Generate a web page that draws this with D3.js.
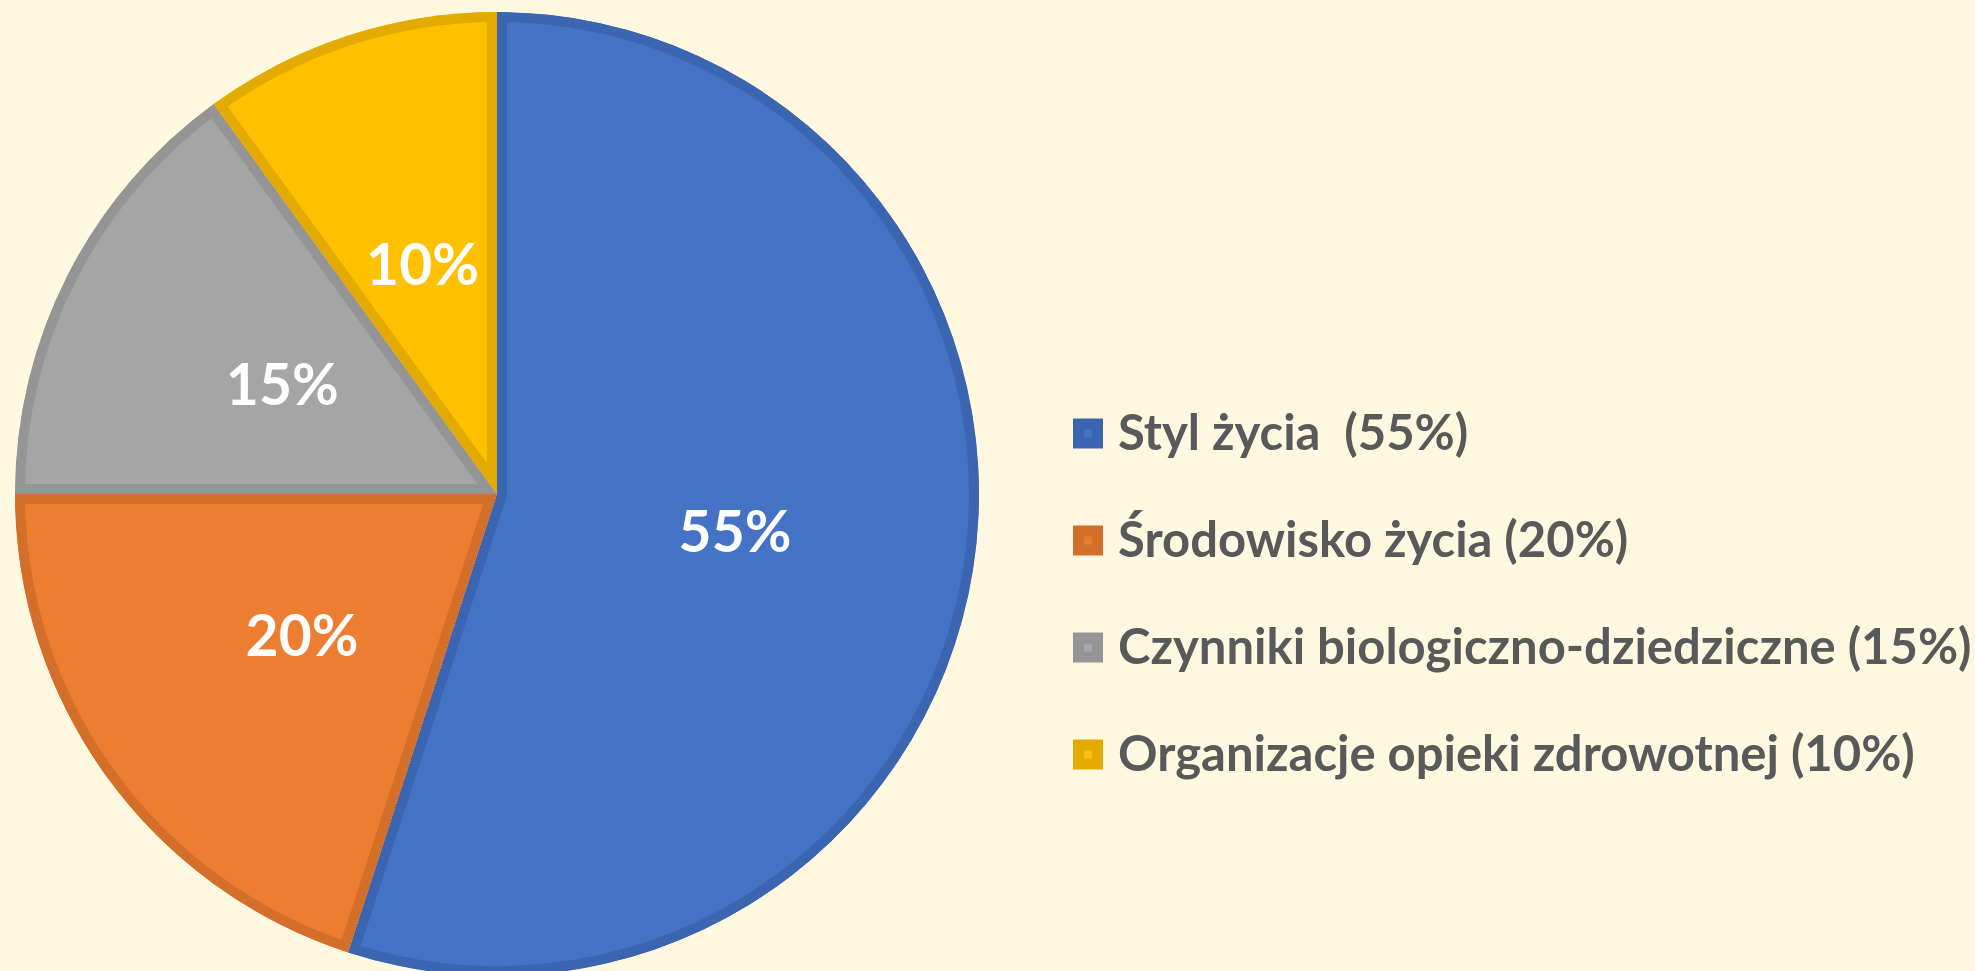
<!DOCTYPE html>
<html>
<head>
<meta charset="utf-8">
<script src="https://cdn.jsdelivr.net/npm/d3@7"></script>
<style>
  html, body { margin: 0; padding: 0; background: #FFF8E1; overflow: hidden; }
  svg { display: block; }
  text { font-family: Lato, "Open Sans", sans-serif; font-weight: 700; }
</style>
</head>
<body>
<svg id="chart" width="1975" height="971"></svg>
<script>
const categories = ["Styl życia", "Środowisko życia", "Czynniki biologiczno-dziedziczne", "Organizacje opieki zdrowotnej"];
const values = [55, 20, 15, 10];
const legendLabels = ["Styl życia  (55%)", "Środowisko życia (20%)", "Czynniki biologiczno-dziedziczne (15%)", "Organizacje opieki zdrowotnej (10%)"];
const fillColors = ["#4472C4", "#ED7D31", "#A5A5A5", "#FFC000"];
const edgeColors = ["#3C65B1", "#D36E2B", "#959595", "#E3AB00"];

const W = 1975, H = 971;
const svg = d3.select("#chart");
svg.append("rect").attr("width", W).attr("height", H).attr("fill", "#FFF8E1");

const cx = 497, cy = 494, R = 482;
const data = categories.map((c, i) => ({ name: c, value: values[i], i }));
const pie = d3.pie().value(d => d.value).sort(null);
const arcs = pie(data);
const arcGen = d3.arc().innerRadius(0).outerRadius(R);

const defs = svg.append("defs");
arcs.forEach((a, i) => {
  defs.append("clipPath").attr("id", "clip" + i)
    .append("path").attr("d", arcGen(a));
});

const g = svg.append("g").attr("transform", `translate(${cx},${cy})`);
g.selectAll("path.slice").data(arcs).enter().append("path")
  .attr("class", "slice")
  .attr("d", arcGen)
  .attr("fill", d => fillColors[d.data.i])
  .attr("stroke", d => edgeColors[d.data.i])
  .attr("stroke-width", 20)
  .attr("stroke-linejoin", "miter")
  .attr("clip-path", (d, i) => `url(#clip${i})`);

g.selectAll("text.lbl").data(arcs).enter().append("text")
  .attr("class", "lbl")
  .attr("transform", d => `translate(${arcGen.centroid(d)})`)
  .attr("text-anchor", "middle")
  .attr("dy", "0.36em")
  .attr("fill", "#FFFFFF")
  .style("font-size", "57px")
  .text(d => d.value + "%");

// legend
const ly = d3.scaleBand().domain(d3.range(categories.length)).range([380, 808]);
const leg = svg.append("g");
const rows = leg.selectAll("g").data(legendLabels).enter().append("g")
  .attr("transform", (d, i) => `translate(1073,${ly(i) + ly.bandwidth() / 2})`);
rows.append("rect").attr("x", 0).attr("y", -15).attr("width", 30).attr("height", 30)
  .attr("fill", (d, i) => edgeColors[i]);
rows.append("rect").attr("x", 11).attr("y", -4).attr("width", 8).attr("height", 8)
  .attr("fill", (d, i) => fillColors[i]);
rows.append("text")
  .attr("x", 45).attr("y", 16)
  .attr("fill", "#595959")
  .style("font-size", "49px")
  .style("white-space", "pre")
  .text(d => d);
</script>
</body>
</html>
